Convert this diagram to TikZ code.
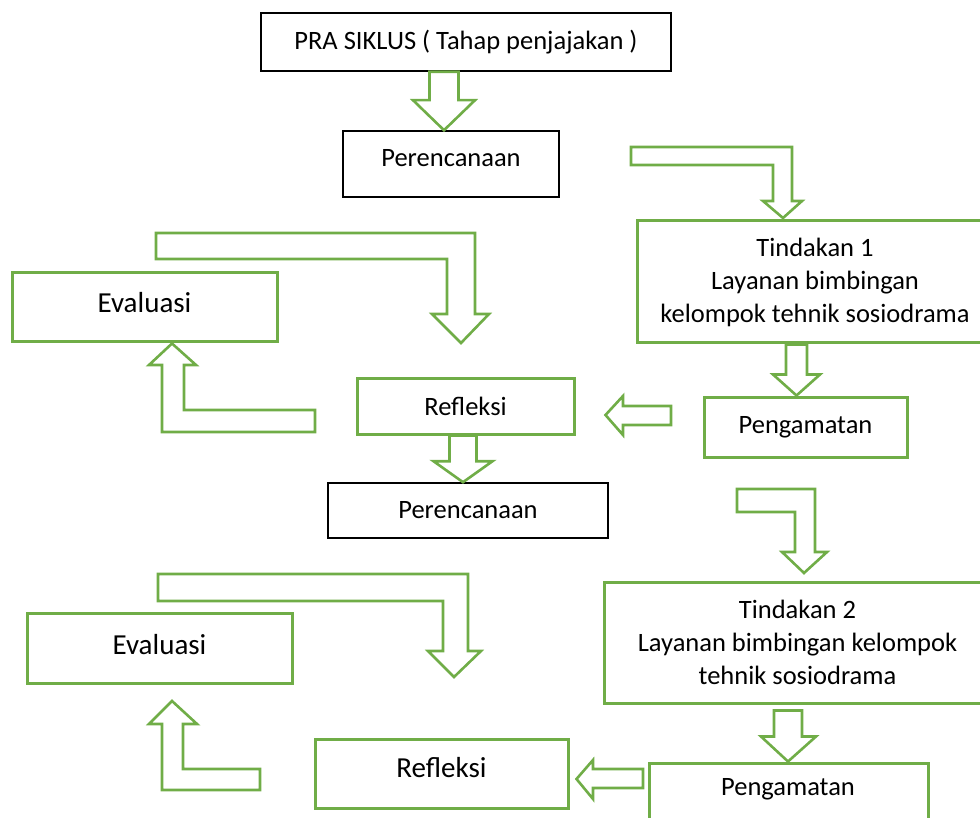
\documentclass[tikz,border=0pt]{standalone}
\usepackage{fontspec}
\setmainfont{Carlito}
\usetikzlibrary{calc}
\definecolor{ogreen}{RGB}{112,173,71}
\tikzset{
  txt/.style={font=\fontsize{26.5}{33}\selectfont, align=center, inner sep=0pt},
  bigtxt/.style={font=\fontsize{29}{34}\selectfont, align=center, inner sep=0pt},
  blackbox/.style={txt, draw=black, line width=1.6pt, fill=white},
  greenbox/.style={txt, draw=ogreen, line width=3pt, fill=white},
  blk/.style={draw=ogreen, line width=2.6pt, line join=miter, fill=white}
}
% box node: #1 style, #2 name, #3 centre, #4 width, #5 height, #6 text
\newcommand\bx[6]{\node[#1, minimum width=#4pt, minimum height=#5pt] (#2) at (#3) {#6};}
% vertical block arrow between two nodes: #1 source, #2 target, #3 centre x,
% #4 half shaft width, #5 half head width, #6 head length
\newcommand\vblk[6]{%
  \draw[blk] let \p1=(#1.south), \p2=(#2.north) in
    (#3-#4,\y1) -- (#3+#4,\y1) -- (#3+#4,\y2+#6) -- (#3+#5,\y2+#6) --
    (#3,\y2) -- (#3-#5,\y2+#6) -- (#3-#4,\y2+#6) -- cycle;}
\begin{document}
\begin{tikzpicture}[x=1pt,y=-1pt]
\useasboundingbox (0,0) rectangle (980,818);
\clip (0,0) rectangle (980,818);

% boxes
\bx{blackbox}{pra}{466,42}{410}{58}{PRA SIKLUS ( Tahap penjajakan )}
\bx{blackbox,text depth=12pt}{per1}{451,164}{216}{66}{Perencanaan}
\bx{greenbox}{tin1}{815,282}{356}{122}{Tindakan 1\\Layanan bimbingan\\kelompok tehnik sosiodrama}
\bx{greenbox,bigtxt,text depth=11pt}{eva1}{144.5,307.5}{265}{69}{Evaluasi}
\bx{greenbox}{ref1}{465.5,406}{217}{56}{Refleksi}
\bx{greenbox}{pen1}{805.5,427}{203}{60}{Pengamatan}
\bx{blackbox}{per2}{468,510.5}{280}{55}{Perencanaan}
\bx{greenbox}{tin2}{797.5,642.5}{387}{121}{Tindakan 2\\Layanan bimbingan kelompok\\tehnik sosiodrama}
\bx{greenbox,bigtxt,text depth=8pt}{eva2}{159.5,648}{265}{70}{Evaluasi}
\bx{greenbox,bigtxt,text depth=13pt}{ref2}{441.5,773.5}{253}{69}{Refleksi}
\bx{greenbox}{pen2}{788.5,797}{279}{68}{}
\node[txt] (pen2t) at (788,789) {Pengamatan};

% straight block arrows
\vblk{pra}{per1}{444}{14.5}{31}{30}
\vblk{tin1}{pen1}{796.5}{10.5}{23.5}{21}
\vblk{ref1}{per2}{463}{13.5}{29.5}{21}
\draw[blk] let \p1=(tin2.south), \p2=(pen2.north) in
  (774,\y1-6) -- (802,\y1-6) -- (802,\y2+25) -- (816,\y2+25) -- (788,\y2) --
  (761,\y2+25) -- (774,\y2+25) -- cycle;

% leftward block arrows
\draw[blk] let \p1=(ref1.east) in
  (671,406) -- (671,425) -- (623,425) -- (623,435) -- (\x1+30,415) --
  (623,396) -- (623,406) -- cycle;
\draw[blk] let \p1=(ref2.east) in
  (643,769) -- (643,788) -- (593,788) -- (593,799) -- (\x1+7,779) --
  (593,760) -- (593,769) -- cycle;

% bent arrows
\draw[blk] (631,147) -- (792,147) -- (792,201) -- (802,201) -- (783,218) --
  (763,201) -- (773,201) -- (773,165) -- (631,165) -- cycle;
\draw[blk] (156,233) -- (475,233) -- (475,314) -- (489,314) -- (461,343) --
  (432,314) -- (447,314) -- (447,259) -- (156,259) -- cycle;
\draw[blk] let \p1=(eva1.south) in
  (315,410) -- (315,432) -- (162,432) -- (162,365) -- (149,365) --
  (172,\y1) -- (196,365) -- (184,365) -- (184,410) -- cycle;
\draw[blk] (737,489) -- (815,489) -- (815,552) -- (827,552) -- (804,573) --
  (782,552) -- (795,552) -- (795,512) -- (737,512) -- cycle;
\draw[blk] (158,574) -- (468,574) -- (468,651) -- (481,651) -- (454,677) --
  (428,651) -- (443,651) -- (443,601) -- (158,601) -- cycle;
\draw[blk] (260,769) -- (260,790) -- (162,790) -- (162,724) -- (149,724) --
  (172,701) -- (197,724) -- (183,724) -- (183,769) -- cycle;
\end{tikzpicture}
\end{document}
